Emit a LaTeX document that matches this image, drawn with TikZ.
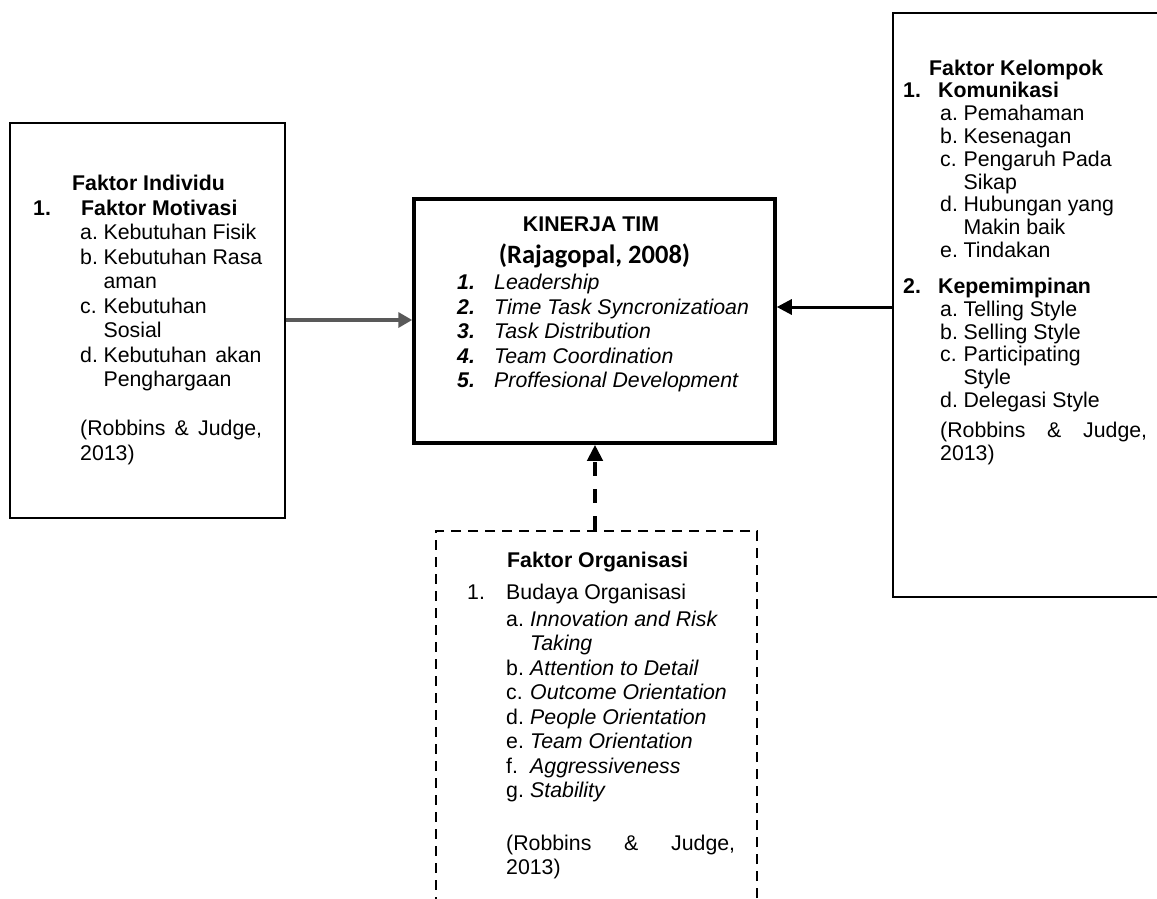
\documentclass[tikz,border=0pt]{standalone}
\usepackage{fontspec}
\setmainfont{Liberation Sans}
\newfontfamily\carlitofont{Carlito}
\usetikzlibrary{arrows.meta}
\definecolor{arrgray}{HTML}{595959}
\begin{document}
\begin{tikzpicture}[x=1pt,y=-1pt,
  boxtxt/.style={inner sep=0pt, anchor=base west, align=left},
  fnt/.style={font=\fontsize{21.3}{24.5}\selectfont},
  fntR/.style={font=\fontsize{21.3}{22.8}\selectfont},
  plainbox/.style={draw, inner sep=0pt},
  dashbox/.style={draw, inner sep=0pt, line width=2.5pt, dash pattern=on 10pt off 7pt},
  grayarrow/.style={line width=4pt, draw=arrgray, -{Triangle[length=14pt,width=15pt]}},
  blackarrow/.style={line width=3pt, -{Triangle[length=15pt,width=15pt]}},
  dasharrow/.style={line width=4pt, dash pattern=on 14pt off 13pt, -{Triangle[length=16pt,width=15pt]}}
]
\useasboundingbox (0,0) rectangle (1157,899);

% boxes
\node[plainbox, line width=2.2pt, minimum width=275pt, minimum height=395pt] (indiv) at (147.5,320.5) {};
\node[plainbox, line width=3.5pt, minimum width=361pt, minimum height=244pt] (kinerja) at (594.5,321) {};
\node[plainbox, line width=2.5pt, minimum width=290pt, minimum height=584pt] (kelompok) at (1038,305) {};
\node[dashbox, minimum width=321pt, minimum height=420pt] (organisasi) at (596.5,741) {};

% left text (anchor = baseline of last line)
\node[boxtxt, fnt] (tindiv) at (33,460) {%
\hspace*{39pt}\textbf{Faktor Individu}\\
\makebox[48pt][l]{\textbf{1.}}\textbf{Faktor Motivasi}\\
\hspace*{47pt}\makebox[23.4pt][l]{a.}Kebutuhan Fisik\\
\hspace*{47pt}\makebox[23.4pt][l]{b.}Kebutuhan Rasa\\
\hspace*{70.4pt}aman\\
\hspace*{47pt}\makebox[23.4pt][l]{c.}Kebutuhan\\
\hspace*{70.4pt}Sosial\\
\hspace*{47pt}\makebox[23.4pt][l]{d.}\makebox[158pt][s]{Kebutuhan akan}\\
\hspace*{70.4pt}Penghargaan\\[24.5pt]
\hspace*{47pt}\makebox[182pt][s]{(Robbins \& Judge,}\\
\hspace*{47pt}2013)};

% center text
\node[inner sep=0pt, anchor=base, font=\fontsize{21.3}{24}\selectfont\bfseries] (ktitle) at (591,231) {KINERJA TIM};
\node[inner sep=0pt, anchor=base, font=\carlitofont\fontsize{26.5}{30}\selectfont\bfseries] (kref) at (594.5,263) {(Rajagopal, 2008)};
\node[boxtxt, fnt] (klist) at (457,387.5) {%
\makebox[37pt][l]{\bfseries\itshape 1.}\textit{Leadership}\\
\makebox[37pt][l]{\bfseries\itshape 2.}\textit{Time Task Syncronizatioan}\\
\makebox[37pt][l]{\bfseries\itshape 3.}\textit{Task Distribution}\\
\makebox[37pt][l]{\bfseries\itshape 4.}\textit{Team Coordination}\\
\makebox[37pt][l]{\bfseries\itshape 5.}\textit{Proffesional Development}};

% right text
\node[boxtxt, fntR] (tkel) at (903,460.2) {%
\hspace*{26pt}\textbf{Faktor Kelompok}\\
\makebox[35pt][l]{\textbf{1.}}\textbf{Komunikasi}\\
\hspace*{37pt}\makebox[23.4pt][l]{a.}Pemahaman\\
\hspace*{37pt}\makebox[23.4pt][l]{b.}Kesenagan\\
\hspace*{37pt}\makebox[23.4pt][l]{c.}Pengaruh Pada\\
\hspace*{60.4pt}Sikap\\
\hspace*{37pt}\makebox[23.4pt][l]{d.}Hubungan yang\\
\hspace*{60.4pt}Makin baik\\
\hspace*{37pt}\makebox[23.4pt][l]{e.}Tindakan\\[13.2pt]
\makebox[35pt][l]{\textbf{2.}}\textbf{Kepemimpinan}\\
\hspace*{37pt}\makebox[23.4pt][l]{a.}Telling Style\\
\hspace*{37pt}\makebox[23.4pt][l]{b.}Selling Style\\
\hspace*{37pt}\makebox[23.4pt][l]{c.}Participating\\
\hspace*{60.4pt}Style\\
\hspace*{37pt}\makebox[23.4pt][l]{d.}Delegasi Style\\[7.2pt]
\hspace*{37pt}\makebox[207pt][s]{(Robbins \& Judge,}\\
\hspace*{37pt}2013)};

% bottom text
\node[boxtxt, fnt] (torg) at (467,874.5) {%
\hspace*{40pt}\textbf{Faktor Organisasi}\\[7.5pt]
\makebox[39pt][l]{1.}Budaya Organisasi\\[2.5pt]
\hspace*{39pt}\makebox[24pt][l]{a.}\textit{Innovation and Risk}\\
\hspace*{63pt}\textit{Taking}\\
\hspace*{39pt}\makebox[24pt][l]{b.}\textit{Attention to Detail}\\
\hspace*{39pt}\makebox[24pt][l]{c.}\textit{Outcome Orientation}\\
\hspace*{39pt}\makebox[24pt][l]{d.}\textit{People Orientation}\\
\hspace*{39pt}\makebox[24pt][l]{e.}\textit{Team Orientation}\\
\hspace*{39pt}\makebox[24pt][l]{f.}\textit{Aggressiveness}\\
\hspace*{39pt}\makebox[24pt][l]{g.}\textit{Stability}\\[28pt]
\hspace*{39pt}\makebox[229pt][s]{(Robbins \& Judge,}\\
\hspace*{39pt}2013)};

% connectors
\coordinate (ga) at (0,320);
\coordinate (ba) at (0,307);
\coordinate (da) at (595,0);
\draw[grayarrow] (indiv.east |- ga) -- (kinerja.west |- ga);
\draw[blackarrow] (kelompok.west |- ba) -- (kinerja.east |- ba);
\draw[dasharrow] (organisasi.north -| da) -- (kinerja.south -| da);
\end{tikzpicture}
\end{document}
